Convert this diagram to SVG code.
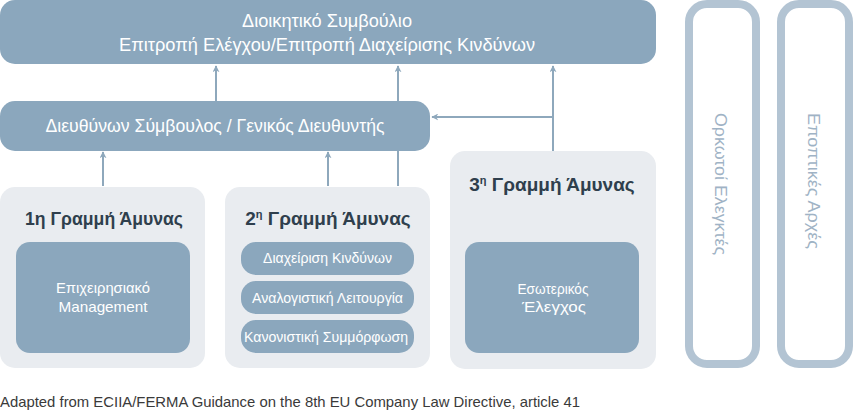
<svg xmlns="http://www.w3.org/2000/svg" width="853" height="414" viewBox="0 0 853 414">
<defs>
<style>
.blue{fill:#8ba7bd}
.panel{fill:#e9ecf0}
.frame{fill:#ffffff;stroke:#b3c4d3;stroke-width:8}
.wt{font-family:"Liberation Sans",Arial,sans-serif;fill:#ffffff;text-anchor:middle}
.tt{font-family:"Liberation Sans",Arial,sans-serif;fill:#2f3f4d;font-weight:bold;text-anchor:middle;font-size:19px}
.vt{font-family:"Liberation Sans",Arial,sans-serif;fill:#9fb3c5;text-anchor:middle;font-size:17px}
.ft{font-family:"Liberation Sans",Arial,sans-serif;fill:#3a3a3a;font-size:15px}
.conn{fill:none;stroke:#8ea8bc;stroke-width:2}
</style>
<marker id="ah" viewBox="0 0 10 10" refX="9" refY="5" markerWidth="7" markerHeight="7" markerUnits="userSpaceOnUse" orient="auto">
<path d="M0,0 L10,5 L0,10 L3,5 Z" fill="#8ea8bc"/>
</marker>
</defs>
<rect width="853" height="414" fill="#ffffff"/>
<g id="connectors">
<path class="conn" d="M216,101 V66" marker-end="url(#ah)"/>
<path class="conn" d="M398,186 V66" marker-end="url(#ah)"/>
<path class="conn" d="M553,151 V66" marker-end="url(#ah)"/>
<path class="conn" d="M553,117 H432" marker-end="url(#ah)"/>
<path class="conn" d="M103,186 V152" marker-end="url(#ah)"/>
<path class="conn" d="M328,186 V152" marker-end="url(#ah)"/>
</g>
<g id="board">
<rect class="blue" x="0" y="0" width="656" height="64" rx="15"/>
<text class="wt" x="327" y="27" font-size="18.5" textLength="170" lengthAdjust="spacingAndGlyphs">Διοικητικό Συμβούλιο</text>
<text class="wt" x="327" y="51" font-size="18.5" textLength="416" lengthAdjust="spacingAndGlyphs">Επιτροπή Ελέγχου/Επιτροπή Διαχείρισης Κινδύνων</text>
</g>
<g id="ceo">
<rect class="blue" x="0" y="101" width="430" height="50" rx="15"/>
<text class="wt" x="215" y="132" font-size="19" textLength="339" lengthAdjust="spacingAndGlyphs">Διευθύνων Σύμβουλος / Γενικός Διευθυντής</text>
</g>
<g id="line1">
<rect class="panel" x="0" y="187" width="205" height="181" rx="15"/>
<text class="tt" x="104" y="225" textLength="158" lengthAdjust="spacingAndGlyphs">1η Γραμμή Άμυνας</text>
<rect class="blue" x="16" y="242" width="174" height="111" rx="14"/>
<text class="wt" x="103" y="293" font-size="15" textLength="94" lengthAdjust="spacingAndGlyphs">Επιχειρησιακό</text>
<text class="wt" x="103" y="312" font-size="15" textLength="89" lengthAdjust="spacingAndGlyphs">Management</text>
</g>
<g id="line2">
<rect class="panel" x="225" y="187" width="205" height="181" rx="15"/>
<text class="tt" x="328" y="225">2<tspan font-size="11" dy="-7">η</tspan><tspan dy="7"> Γραμμή Άμυνας</tspan></text>
<rect class="blue" x="241" y="242" width="173" height="33" rx="15"/>
<text class="wt" x="327.5" y="263" font-size="15" textLength="129" lengthAdjust="spacingAndGlyphs">Διαχείριση Κινδύνων</text>
<rect class="blue" x="241" y="281" width="173" height="33" rx="15"/>
<text class="wt" x="327.5" y="303" font-size="15" textLength="151" lengthAdjust="spacingAndGlyphs">Αναλογιστική Λειτουργία</text>
<rect class="blue" x="241" y="320" width="173" height="33" rx="15"/>
<text class="wt" x="326" y="342" font-size="15" textLength="164" lengthAdjust="spacingAndGlyphs">Κανονιστική Συμμόρφωση</text>
</g>
<g id="line3">
<rect class="panel" x="450" y="151" width="206" height="218" rx="15"/>
<text class="tt" x="552" y="191">3<tspan font-size="11" dy="-7">η</tspan><tspan dy="7"> Γραμμή Άμυνας</tspan></text>
<rect class="blue" x="465" y="242" width="174" height="111" rx="14"/>
<text class="wt" x="553" y="294" font-size="15" textLength="71" lengthAdjust="spacingAndGlyphs">Εσωτερικός</text>
<text class="wt" x="554" y="312" font-size="15" textLength="64" lengthAdjust="spacingAndGlyphs">Έλεγχος</text>
</g>
<g id="auditors">
<rect class="frame" x="689" y="4" width="67" height="360" rx="18"/>
<text class="vt" transform="translate(715,184) rotate(90)" x="0" y="0" textLength="142" lengthAdjust="spacingAndGlyphs">Ορκωτοί Ελεγκτές</text>
</g>
<g id="supervisors">
<rect class="frame" x="781" y="4" width="68" height="360" rx="18"/>
<text class="vt" transform="translate(808,181) rotate(90)" x="0" y="0" textLength="136" lengthAdjust="spacingAndGlyphs">Εποπτικές Αρχές</text>
</g>
<text class="ft" x="0" y="407" textLength="580" lengthAdjust="spacingAndGlyphs">Adapted from ECIIA/FERMA Guidance on the 8th EU Company Law Directive, article 41</text>
</svg>
